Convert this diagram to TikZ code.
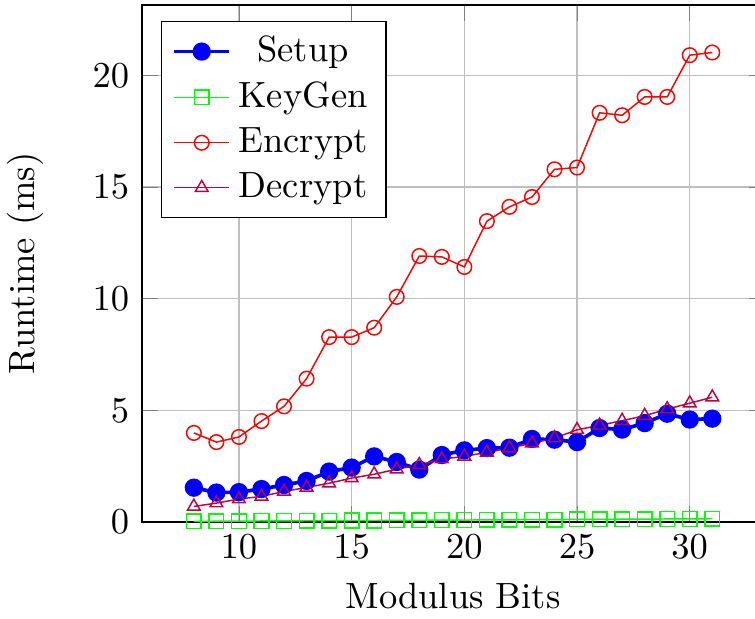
\documentclass[tikz,border=0pt]{standalone}
\usepackage{pgfplots}
\pgfplotsset{compat=1.18}
\usetikzlibrary{calc}
\definecolor{rtSetup}{rgb}{0,0,1}
\definecolor{rtKey}{rgb}{0,1,0}
\definecolor{rtEnc}{rgb}{1,0,0}
\definecolor{rtDec}{rgb}{0.75,0,0.25}
\pgfplotsset{
  rtaxis/.style={
    scale only axis, width=170.4pt, height=141.6pt,
    xmin=5.7, xmax=33.3, ymin=0, ymax=23.14,
    xtick={10,15,...,30}, ytick={0,5,...,20},
    grid=major,
    xlabel={Modulus Bits}, ylabel={Runtime (ms)},
    ylabel style={yshift=6.5pt},
    legend pos=north west, legend cell align=center,
    legend image code/.code={
      \draw[mark repeat=2, mark phase=2]
        plot coordinates {(0cm,0cm) (0.265cm,0cm) (0.53cm,0cm)};
    }
  },
  setupline/.style={color=rtSetup, mark=*, line width=1pt, mark options={solid}},
  keyline/.style={color=rtKey, mark=square},
  encline/.style={color=rtEnc, mark=o},
  decline/.style={color=rtDec, mark=triangle}
}

\begin{document}
\begin{tikzpicture}
  \begin{axis}[rtaxis, name=rt]
    \addplot[setupline] coordinates {
      (8,1.54) (9,1.32) (10,1.34) (11,1.48) (12,1.66) (13,1.84) (14,2.26) (15,2.44)
      (16,2.94) (17,2.69) (18,2.35) (19,3.00) (20,3.21) (21,3.31) (22,3.33) (23,3.72)
      (24,3.69) (25,3.58) (26,4.21) (27,4.14) (28,4.43) (29,4.85) (30,4.59) (31,4.63)};
    \addlegendentry{Setup}
    \addplot[keyline] coordinates {
      (8,0.03) (9,0.04) (10,0.04) (11,0.05) (12,0.05) (13,0.06) (14,0.06) (15,0.07)
      (16,0.07) (17,0.08) (18,0.08) (19,0.09) (20,0.09) (21,0.10) (22,0.10) (23,0.11)
      (24,0.11) (25,0.12) (26,0.12) (27,0.13) (28,0.13) (29,0.14) (30,0.14) (31,0.15)};
    \addlegendentry{KeyGen}
    \addplot[encline] coordinates {
      (8,3.99) (9,3.58) (10,3.81) (11,4.52) (12,5.18) (13,6.42) (14,8.28) (15,8.28)
      (16,8.70) (17,10.08) (18,11.91) (19,11.87) (20,11.42) (21,13.47) (22,14.11) (23,14.55)
      (24,15.79) (25,15.87) (26,18.32) (27,18.21) (28,19.03) (29,19.03) (30,20.90) (31,21.02)};
    \addlegendentry{Encrypt}
    \addplot[decline] coordinates {
      (8,0.70) (9,0.85) (10,1.03) (11,1.15) (12,1.37) (13,1.55) (14,1.74) (15,1.97)
      (16,2.14) (17,2.37) (18,2.56) (19,2.82) (20,2.94) (21,3.12) (22,3.31) (23,3.53)
      (24,3.76) (25,4.13) (26,4.33) (27,4.54) (28,4.76) (29,5.06) (30,5.32) (31,5.59)};
    \addlegendentry{Decrypt}
  \end{axis}
  % fix the page to the reference frame
  \pgfresetboundingbox
  \useasboundingbox ($(rt.south west)+(-38.9pt,-26.4pt)$) rectangle ($(rt.south west)+(167.9pt,143pt)$);
\end{tikzpicture}
\end{document}
